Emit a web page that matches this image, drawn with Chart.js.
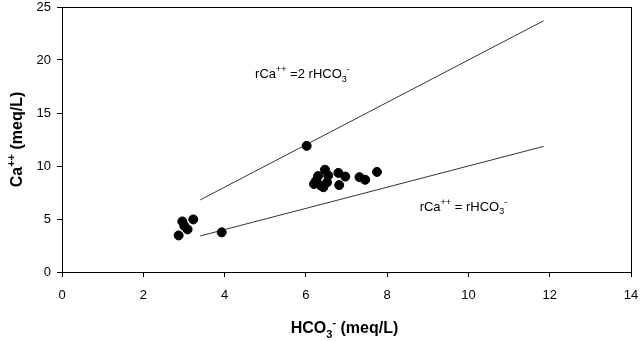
<!DOCTYPE html>
<html>
<head>
<meta charset="utf-8">
<script src="https://cdn.jsdelivr.net/npm/chart.js@4.4.1/dist/chart.umd.min.js"></script>
<style>
  html, body { margin: 0; padding: 0; background: #fff; }
  #wrap { width: 643px; height: 341px; }
</style>
</head>
<body>
<div id="wrap"><canvas id="chart" width="643" height="341"></canvas></div>
<script>
// --- DATA ---
const hco3 = [2.87, 2.96, 3.01, 3.09, 3.23, 3.93, 6.02,
              6.2, 6.25, 6.3, 6.37, 6.43, 6.47, 6.52, 6.55,
              6.8, 6.82, 6.97, 7.32, 7.46, 7.75];
const ca   = [3.45, 4.77, 4.35, 4.02, 4.96, 3.74, 11.9,
              8.3, 8.6, 9.05, 8.15, 8.0, 9.65, 8.45, 9.1,
              9.35, 8.2, 9.0, 8.95, 8.7, 9.44];

// reference lines rCa = 2 rHCO3 and rCa = rHCO3
const lineX = [3.4, 11.85];
const line2Y = [6.8, 23.7];
const line1Y = [3.4, 11.85];

const xTicks = [0, 2, 4, 6, 8, 10, 12, 14];
const yTicks = [0, 5, 10, 15, 20, 25];

const FONT = '"Liberation Sans", Arial, sans-serif';

function pts(xs, ys) {
    return xs.map((x, i) => ({ x: x, y: ys[i] }));
}

// draws text with sub/superscripts, segments: [text, 'n'|'sup'|'sub']
function richText(ctx, segs, x, y, size, bold, align) {
    const w = bold ? 'bold ' : '';
    const small = Math.round(size * 0.7);
    let total = 0;
    segs.forEach(s => {
        ctx.font = w + (s[1] === 'n' ? size : small) + 'px ' + FONT;
        total += ctx.measureText(s[0]).width;
    });
    let cx = align === 'center' ? x - total / 2 : x;
    ctx.textBaseline = 'alphabetic';
    ctx.textAlign = 'left';
    segs.forEach(s => {
        ctx.font = w + (s[1] === 'n' ? size : small) + 'px ' + FONT;
        let dy = 0;
        if (s[1] === 'sup') dy = -size * 0.45;
        if (s[1] === 'sub') dy = size * 0.3;
        ctx.fillText(s[0], cx, y + dy);
        cx += ctx.measureText(s[0]).width;
    });
}

const decorPlugin = {
    id: 'decor',
    afterDraw(chart) {
        const ctx = chart.ctx;
        const a = chart.chartArea;
        ctx.save();
        // frame
        ctx.strokeStyle = '#000';
        ctx.lineWidth = 1;
        ctx.strokeRect(Math.round(a.left) + 0.5, Math.round(a.top) + 0.5,
                       Math.round(a.right - a.left), Math.round(a.bottom - a.top));
        ctx.fillStyle = '#000';
        // x title
        richText(ctx, [['HCO', 'n'], ['3', 'sub'], ['-', 'sup'], [' (meq/L)', 'n']],
                 (a.left + a.right) / 2 - 2, 333, 16, true, 'center');
        // y title
        ctx.save();
        ctx.translate(22, (a.top + a.bottom) / 2);
        ctx.rotate(-Math.PI / 2);
        richText(ctx, [['Ca', 'n'], ['++', 'sup'], [' (meq/L)', 'n']], 0, 0, 16, true, 'center');
        ctx.restore();
        // annotations
        const xs = chart.scales.x, ys = chart.scales.y;
        richText(ctx, [['rCa', 'n'], ['++', 'sup'], [' =2 rHCO', 'n'], ['3', 'sub'], ['-', 'sup']],
                 xs.getPixelForValue(4.75), ys.getPixelForValue(18.3), 13, false, 'left');
        richText(ctx, [['rCa', 'n'], ['++', 'sup'], [' = rHCO', 'n'], ['3', 'sub'], ['-', 'sup']],
                 xs.getPixelForValue(8.8), ys.getPixelForValue(5.8), 13, false, 'left');
        ctx.restore();
    }
};

const ctx = document.getElementById('chart').getContext('2d');
new Chart(ctx, {
    type: 'scatter',
    data: {
        datasets: [
            { data: pts(hco3, ca), backgroundColor: '#000', borderColor: '#000',
              pointRadius: 4.5, pointHoverRadius: 4.5, order: 0 },
            { type: 'line', data: pts(lineX, line2Y), borderColor: '#333', borderWidth: 1,
              pointRadius: 0, fill: false, order: 1 },
            { type: 'line', data: pts(lineX, line1Y), borderColor: '#333', borderWidth: 1,
              pointRadius: 0, fill: false, order: 1 }
        ]
    },
    options: {
        responsive: false,
        animation: false,
        layout: { padding: { top: 7, right: 12, left: 0, bottom: 0 } },
        plugins: { legend: { display: false }, tooltip: { enabled: false } },
        scales: {
            x: {
                type: 'linear', min: 0, max: 14,
                afterBuildTicks(s) { s.ticks = xTicks.map(v => ({ value: v })); },
                ticks: { color: '#000', font: { size: 13, family: FONT }, padding: 11 },
                grid: { drawOnChartArea: false, tickLength: 5, color: '#000' },
                border: { color: '#000' },
                afterFit(s) { s.height = 69; s.paddingLeft = 0; s.paddingRight = 0; }
            },
            y: {
                type: 'linear', min: 0, max: 25,
                afterBuildTicks(s) { s.ticks = yTicks.map(v => ({ value: v })); },
                ticks: { color: '#000', font: { size: 13, family: FONT }, padding: 6 },
                grid: { drawOnChartArea: false, tickLength: 5, color: '#000' },
                border: { color: '#000' },
                afterFit(s) { s.width = 62; s.paddingTop = 0; s.paddingBottom = 0; }
            }
        }
    },
    plugins: [decorPlugin]
});
</script>
</body>
</html>
